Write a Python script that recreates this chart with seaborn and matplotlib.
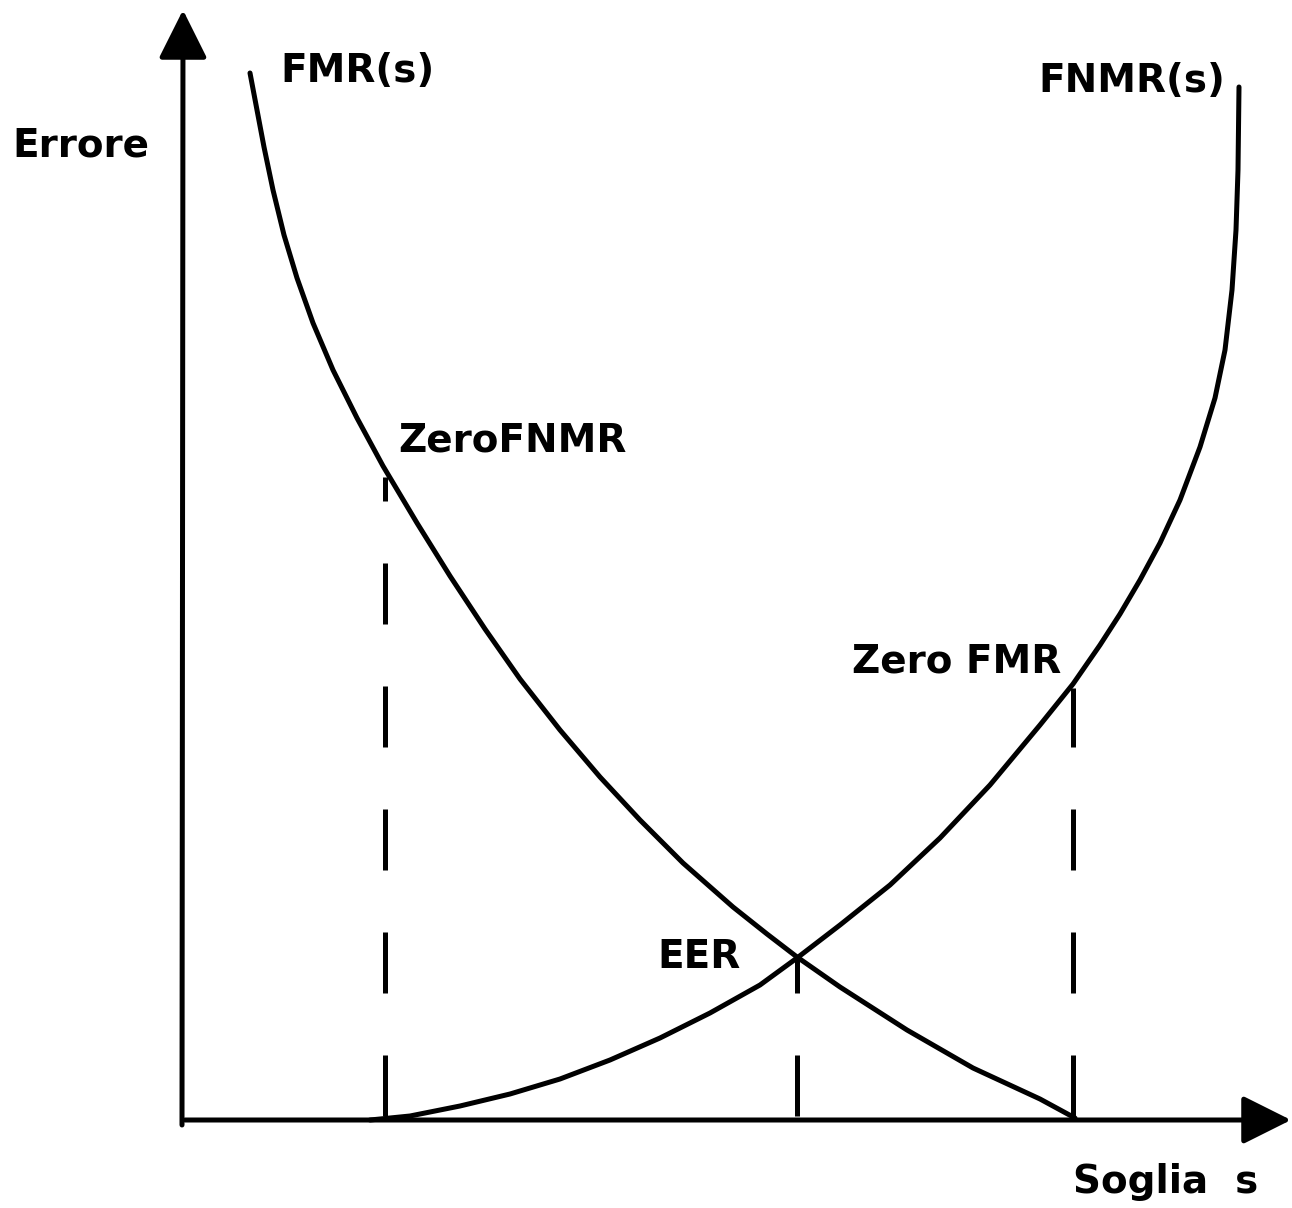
import numpy as np
import pandas as pd
import matplotlib
matplotlib.use("Agg")
import matplotlib.pyplot as plt
import seaborn as sns

# soglia s e errore (unita' arbitrarie, origine = incrocio assi)
fmr_s = [0.67, 0.74, 0.81, 0.90, 1.01, 1.14, 1.30, 1.50, 1.74, 2.00, 2.34,
         2.67, 3.02, 3.37, 3.77, 4.17, 4.57, 5.00, 5.50, 5.84, 6.14, 6.57,
         7.24, 7.90, 8.57, 8.92]
fmr_err = [10.47, 10.10, 9.73, 9.30, 8.85, 8.42, 7.97, 7.50, 7.02, 6.54, 5.97,
           5.44, 4.91, 4.41, 3.90, 3.43, 3.00, 2.57, 2.13, 1.86, 1.63, 1.33,
           0.90, 0.52, 0.21, 0.02]

fnmr_s = [1.87, 2.27, 2.77, 3.27, 3.77, 4.27, 4.77, 5.27, 5.77, 6.14, 6.57,
          7.07, 7.57, 8.07, 8.57, 8.90, 9.17, 9.37, 9.57, 9.77, 9.97, 10.17,
          10.32, 10.42, 10.49, 10.53, 10.55, 10.56]
fnmr_err = [0.00, 0.04, 0.14, 0.26, 0.41, 0.60, 0.82, 1.07, 1.35, 1.62, 1.95,
            2.35, 2.82, 3.35, 3.95, 4.36, 4.75, 5.06, 5.40, 5.77, 6.20, 6.73,
            7.22, 7.70, 8.30, 8.90, 9.50, 10.33]

# soglie notevoli: ZeroFNMR, EER, Zero FMR
mark_s = [2.02, 6.14, 8.90]
mark_err = [6.43, 1.62, 4.32]

df_fmr = pd.DataFrame({'s': fmr_s, 'err': fmr_err})
df_fnmr = pd.DataFrame({'s': fnmr_s, 'err': fnmr_err})

sns.set_style('white')
plt.rcParams['font.family'] = ['DejaVu Sans']

fig = plt.figure(figsize=(12.92, 12.08), dpi=100)
ax = fig.add_axes([0, 0, 1, 1])
ax.set_xlim(-1.83, 11.09)
ax.set_ylim(-0.88, 11.20)
ax.axis('off')

lw = 3.6

# assi con frecce
arrow = dict(arrowstyle='-|>,head_length=0.4,head_width=0.2', mutation_scale=75,
             lw=lw, color='black', shrinkA=0, shrinkB=0)
ax.annotate('', xy=(0, 11.10), xytext=(-0.01, -0.05), arrowprops=arrow)
ax.annotate('', xy=(11.08, 0), xytext=(0.02, 0), arrowprops=arrow)

# curve
sns.lineplot(data=df_fmr, x='s', y='err', sort=False, estimator=None,
             color='black', lw=lw, ax=ax, solid_joinstyle='round')
sns.lineplot(data=df_fnmr, x='s', y='err', sort=False, estimator=None,
             color='black', lw=lw, ax=ax, solid_joinstyle='round')

# linee tratteggiate verticali
ax.vlines(mark_s, 0.04, mark_err, colors='black', lw=lw,
          linestyles=[(0, (12.2, 12.4))])

txt = dict(fontsize=28, fontweight='bold', color='black', va='baseline', ha='left')
ax.text(-1.71, 9.63, 'Errore', **txt)
ax.text(0.97, 10.38, 'FMR(s)', **txt)
ax.text(8.55, 10.28, 'FNMR(s)', **txt)
ax.text(2.15, 6.68, 'ZeroFNMR', **txt)
ax.text(6.69, 4.47, 'Zero FMR', **txt)
ax.text(4.74, 1.52, 'EER', **txt)
ax.text(8.90, -0.73, 'Soglia  s', **txt)

fig.savefig('out.png', dpi=100)
